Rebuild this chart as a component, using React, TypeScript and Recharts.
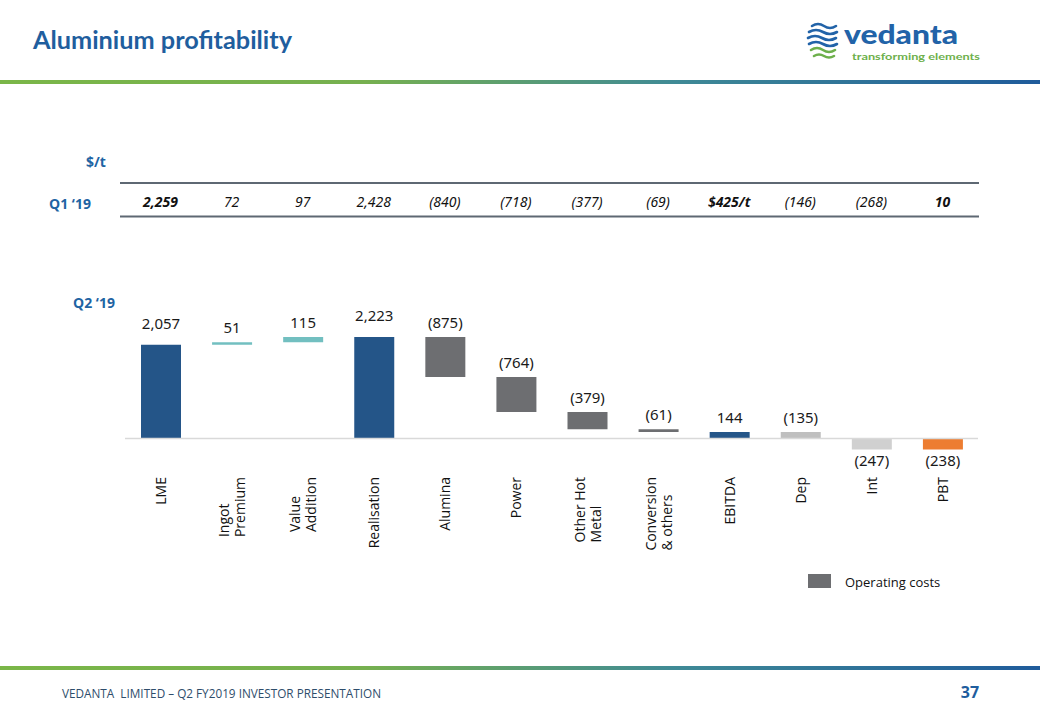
import React from "react";
import { BarChart, Bar, XAxis, YAxis, ReferenceLine, LabelList, Cell } from "recharts";

// Q2 '19 waterfall, $/t
const categories = [
  "LME",
  "Ingot Premium",
  "Value Addition",
  "Realisation",
  "Alumina",
  "Power",
  "Other Hot Metal",
  "Conversion & others",
  "EBITDA",
  "Dep",
  "Int",
  "PBT",
];
const categoryLines = [
  ["LME"],
  ["Ingot", "Premium"],
  ["Value", "Addition"],
  ["Realisation"],
  ["Alumina"],
  ["Power"],
  ["Other Hot", "Metal"],
  ["Conversion", "& others"],
  ["EBITDA"],
  ["Dep"],
  ["Int"],
  ["PBT"],
];
const q2Values = [2057, 51, 115, 2223, -875, -764, -379, -61, 144, -135, -247, -238];
const isTotal = [true, false, false, true, false, false, false, false, true, false, false, true];

// Q1 '19 row
const q1Labels = ["2,259", "72", "97", "2,428", "(840)", "(718)", "(377)", "(69)", "$425/t", "(146)", "(268)", "10"];
const q1Bold = [true, false, false, false, false, false, false, false, true, false, false, true];

const BLUE = "#245588";
const TEAL = "#72BFC0";
const OPS = "#6D6E71";
const barColors = [BLUE, TEAL, TEAL, BLUE, OPS, OPS, OPS, OPS, BLUE, "#BFBFBF", "#D0D0D0", "#ED7D31"];

const fmt = (v: number) => {
  const s = Math.abs(v).toLocaleString("en-US");
  return v < 0 ? `(${s})` : s;
};

let running = 0;
const data = categories.map((name, i) => {
  const v = q2Values[i];
  const start = isTotal[i] ? 0 : running;
  const end = start + v;
  running = end;
  const lo = Math.min(start, end);
  const hi = Math.max(start, end);
  return { name, range: [lo, hi], label: fmt(v), below: lo < 0 };
});

const LABEL_TOP = 477;
const Q1_Y = 201;
const AXIS_FONT = '14px "Open Sans"';

const ctx = typeof document !== "undefined" ? document.createElement("canvas").getContext("2d") : null;
function measure(text: string) {
  if (!ctx) return text.length * 7.5;
  ctx.font = AXIS_FONT;
  return ctx.measureText(text).width;
}

function CategoryTick(props: any) {
  const { x, payload } = props;
  const i = props.index ?? payload.index;
  const lines = categoryLines[i];
  const widest = Math.max(...lines.map(measure));
  const base = LABEL_TOP + widest;
  return (
    <g>
      {lines.map((l, k) => {
        const lx = x + (k - (lines.length - 1) / 2) * 16;
        return (
          <text
            key={k}
            x={lx}
            y={base}
            transform={`rotate(-90 ${lx} ${base})`}
            textAnchor="start"
            dominantBaseline="central"
            fontFamily="Open Sans"
            fontSize={14}
            fill="#111"
          >
            {l}
          </text>
        );
      })}
      <text
        x={x}
        y={Q1_Y}
        textAnchor="middle"
        dominantBaseline="central"
        fontFamily="Noto Sans"
        fontStyle="italic"
        fontWeight={q1Bold[i] ? 700 : 400}
        fontSize={14}
        fill="#111"
      >
        {q1Labels[i]}
      </text>
    </g>
  );
}

function ValueLabel(props: any) {
  const { x, y, width, height, index } = props;
  const d = data[index];
  const top = Math.min(y, y + height);
  const bottom = Math.max(y, y + height);
  const tall = Math.abs(height) > 50 && isTotal[index];
  const cy = d.below ? bottom + 11 : top - (tall ? 22 : 15);
  return (
    <text
      x={x + width / 2}
      y={cy}
      textAnchor="middle"
      dominantBaseline="central"
      fontFamily="Noto Sans"
      fontSize={15}
      fill="#1a1a1a"
    >
      {d.label}
    </text>
  );
}

const gradient = "linear-gradient(to right, #7AB648 0%, #76B04F 35%, #3F8A96 65%, #1F5B9B 100%)";
const blueText = "#1F64A3";

function Logo() {
  return (
    <svg width={180} height={48} style={{ position: "absolute", left: 804, top: 17 }}>
      <g fill="none" strokeWidth={2.6} strokeLinecap="round">
        <path d="M8 9 q6 -4 12 0 t12 0" stroke="#2263A8" />
        <path d="M5 15 q7 -4 14 0 t14 0" stroke="#2263A8" />
        <path d="M4 21 q7 -4 14 0 t14 0" stroke="#2263A8" />
        <path d="M5 27 q7 -4 14 0 t14 0" stroke="#2263A8" />
        <path d="M7 33 q6 -4 12 0 t12 0" stroke="#6DB04B" />
        <path d="M10 39 q5 -3 10 0 t10 0" stroke="#6DB04B" />
      </g>
      <text x={40} y={27} fontFamily="Lato" fontWeight={900} fontSize={27} fill="#2263A8" textLength={114} lengthAdjust="spacingAndGlyphs">
        vedanta
      </text>
      <text x={48} y={43} fontFamily="Lato" fontWeight={700} fontSize={9.5} fill="#6DB04B" textLength={128} lengthAdjust="spacingAndGlyphs">
        transforming elements
      </text>
    </svg>
  );
}

export default function App() {
  return (
    <div style={{ position: "absolute", left: 0, top: 0, width: 1040, height: 720, background: "#fff", overflow: "hidden" }}>
      <svg width={1040} height={720} style={{ position: "absolute", left: 0, top: 0 }}>
        <text x={33} y={49} fontFamily="Lato" fontWeight={700} fontSize={25} fill="#1F5E9E" textLength={259} lengthAdjust="spacingAndGlyphs">
          Aluminium profitability
        </text>
        <text x={96} y={161} textAnchor="middle" dominantBaseline="central" fontFamily="Open Sans" fontWeight={700} fontSize={14} fill={blueText}>
          $/t
        </text>
        <text x={70} y={203} textAnchor="middle" dominantBaseline="central" fontFamily="Open Sans" fontWeight={700} fontSize={14} fill={blueText}>
          Q1 ‘19
        </text>
        <text x={94} y={302} textAnchor="middle" dominantBaseline="central" fontFamily="Open Sans" fontWeight={700} fontSize={14} fill={blueText}>
          Q2 ‘19
        </text>
        <line x1={120} x2={979} y1={183} y2={183} stroke="#5E6873" strokeWidth={2} />
        <line x1={120} x2={979} y1={216.5} y2={216.5} stroke="#5E6873" strokeWidth={2} />
        <rect x={808} y={574} width={23} height={14} fill={OPS} />
        <text x={845} y={582} dominantBaseline="central" fontFamily="Open Sans" fontSize={13} fill="#111">
          Operating costs
        </text>
        <text x={62} y={693} dominantBaseline="central" fontFamily="Open Sans" fontSize={12} fill="#2E4D6B" textLength={319} lengthAdjust="spacingAndGlyphs">
          {"VEDANTA\u00A0 LIMITED – Q2 FY2019 INVESTOR PRESENTATION"}
        </text>
        <text x={970} y={692} textAnchor="middle" dominantBaseline="central" fontFamily="Open Sans" fontWeight={700} fontSize={16} fill="#1F5E9E">
          37
        </text>
      </svg>
      <div style={{ position: "absolute", left: 0, top: 80, width: 1040, height: 4, background: gradient }} />
      <div style={{ position: "absolute", left: 0, top: 666, width: 1040, height: 4, background: gradient }} />
      <Logo />
      <div style={{ position: "absolute", left: 0, top: 0 }}>
        <BarChart
          width={1040}
          height={720}
          data={data}
          barSize={40}
          margin={{ top: 329, right: 62, bottom: 224, left: 125 }}
        >
          <XAxis
            dataKey="name"
            interval={0}
            tickLine={false}
            axisLine={false}
            height={30}
            tick={(p: any) => <CategoryTick {...p} />}
          />
          <YAxis hide domain={[-600, 2400]} allowDataOverflow />
          <ReferenceLine y={0} stroke="#D9D9D9" strokeWidth={1.5} />
          <Bar dataKey="range" isAnimationActive={false}>
            {data.map((d, i) => (
              <Cell key={d.name} fill={barColors[i]} />
            ))}
            <LabelList dataKey="range" content={(p: any) => <ValueLabel {...p} />} />
          </Bar>
        </BarChart>
      </div>
    </div>
  );
}
